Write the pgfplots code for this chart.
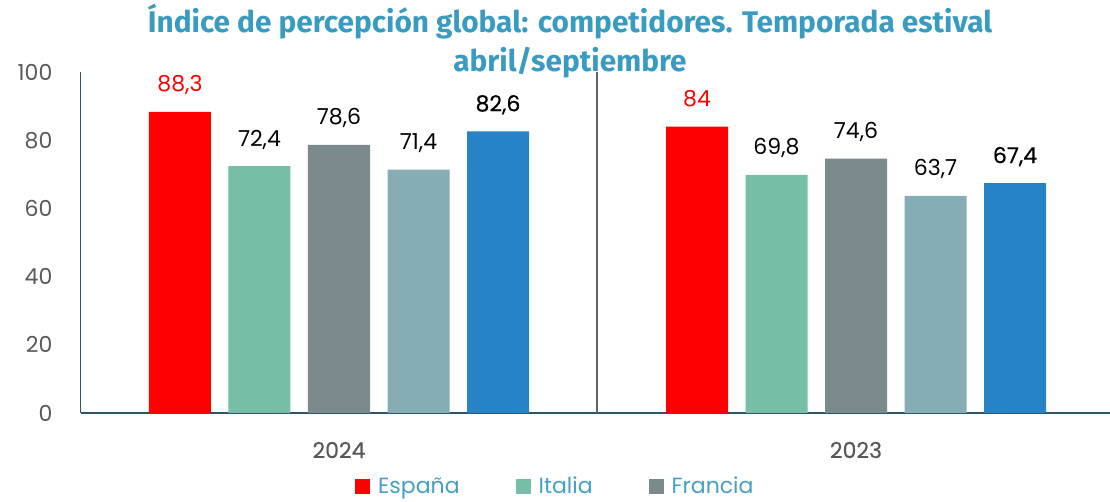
\documentclass[border=0pt]{standalone}
\usepackage{fontspec}
\setmainfont{Poppins}
\newfontfamily\titlefont{Fira Sans}
\newfontfamily\medfont[FakeBold=0.4]{Poppins}
\usepackage{pgfplots}
\pgfplotsset{compat=1.18}
\definecolor{cEsp}{RGB}{255,0,0}
\definecolor{cIta}{RGB}{118,190,166}
\definecolor{cFra}{RGB}{123,139,141}
\definecolor{cFour}{RGB}{134,172,182}
\definecolor{cFive}{RGB}{38,131,198}
\definecolor{titlec}{RGB}{58,155,193}
\definecolor{legtxt}{RGB}{70,160,196}
\definecolor{axisc}{RGB}{47,86,104}
\definecolor{sepc}{RGB}{100,100,100}
\definecolor{ticktxt}{RGB}{89,89,89}
\pgfplotsset{/pgf/number format/assume math mode=true}
\begin{document}
\begin{tikzpicture}
\begin{axis}[
  scale only axis, width=515.5pt, height=170.5pt,
  xmin=0, xmax=1031, ymin=0, ymax=100,
  axis x line=bottom, axis y line=left, axis line style={-},
  x axis line style={line width=1pt, draw=axisc},
  y axis line style={line width=0.5pt, draw=axisc},
  ytick={0,20,40,60,80,100},
  xtick={258,775}, xticklabels={2024,2023},
  extra x ticks={516}, extra x tick labels={},
  extra x tick style={grid=major, major grid style={draw=sepc, line width=0.6pt}},
  major tick length=0pt,
  yticklabel style={anchor=east, xshift=-10.8pt, font=\fontsize{11}{13}\selectfont, text=ticktxt},
  xticklabel style={anchor=center, yshift=-18.5pt, font=\medfont\fontsize{11}{13}\selectfont, text=ticktxt},
  ybar, bar width=62, bar shift=0pt,
  legend image code/.code={\fill[#1] (0pt,-3.75pt) rectangle (7.5pt,3.75pt);},
  nodes near coords={\pgfmathprintnumber[fixed,precision=1,use comma]{\pgfplotspointmeta}},
  every node near coord/.append style={anchor=base, yshift=10pt, font=\fontsize{11}{13}\selectfont, text=black},
  clip=false,
  legend columns=3,
  legend style={draw=none, fill=none, at={(0.463,-0.217)}, anchor=center,
    font=\fontsize{11}{13}\selectfont, text=legtxt,
    nodes={inner xsep=4pt, inner ysep=1pt},
    /tikz/every even column/.append style={column sep=24pt}},
]
\addplot[fill=cEsp, draw=none, every node near coord/.append style={text=cEsp}] coordinates {(99,88.3) (616,84)};
\addplot[fill=cIta, draw=none] coordinates {(178.5,72.4) (695.5,69.8)};
\addplot[fill=cFra, draw=none] coordinates {(258,78.6) (775,74.6)};
\addplot[fill=cFour, draw=none] coordinates {(337.5,71.4) (854.5,63.7)};
\addplot[fill=cFive, draw=none, every node near coord/.append style={font=\medfont\fontsize{11}{13}\selectfont}] coordinates {(417,82.6) (934,67.4)};
\legend{España,Italia,Francia}
\node[font=\titlefont\bfseries\fontsize{14.9}{17}\selectfont, text=titlec, anchor=center] at (axis cs:489,114.7) {Índice de percepción global: competidores. Temporada estival};
\node[font=\titlefont\bfseries\fontsize{14.9}{17}\selectfont, text=titlec, anchor=center] at (axis cs:489,102.6) {abril/septiembre};
\end{axis}
\pgfresetboundingbox
\path (-40.5pt,-44.5pt) rectangle (514.5pt,206.5pt);
\end{tikzpicture}
\end{document}
